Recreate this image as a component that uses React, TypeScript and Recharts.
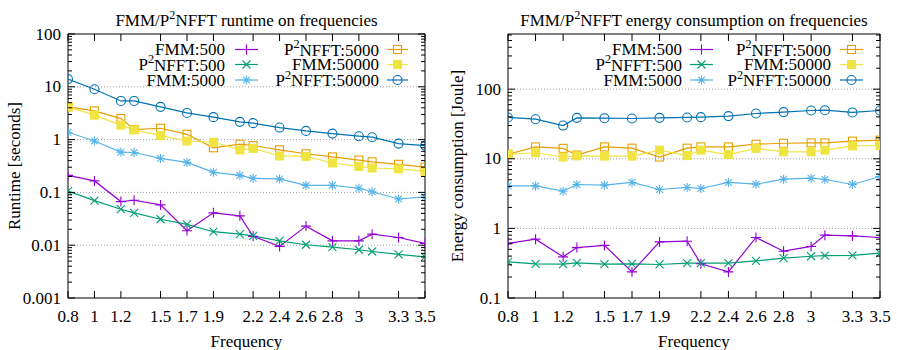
import { Line, LineChart, ReferenceArea, ReferenceLine, XAxis, YAxis } from "recharts";

const FREQS = [0.8, 1, 1.2, 1.3, 1.5, 1.7, 1.9, 2.1, 2.2, 2.4, 2.6, 2.8, 3, 3.1, 3.3, 3.5];
const X_TICKS = [0.8, 1, 1.2, 1.5, 1.7, 1.9, 2.2, 2.4, 2.6, 2.8, 3, 3.3, 3.5];

// runtime [seconds]
const RT_FMM_500 = [0.21, 0.165, 0.067, 0.071, 0.058, 0.0188, 0.041, 0.036, 0.0147, 0.0095, 0.023, 0.0121, 0.0121, 0.0162, 0.014, 0.0108];
const RT_P2NFFT_500 = [0.106, 0.07, 0.048, 0.041, 0.031, 0.0248, 0.018, 0.0162, 0.015, 0.0121, 0.0102, 0.0092, 0.0082, 0.0076, 0.0067, 0.006];
const RT_FMM_5000 = [1.38, 0.94, 0.58, 0.57, 0.44, 0.37, 0.24, 0.21, 0.185, 0.18, 0.136, 0.136, 0.12, 0.103, 0.075, 0.082];
const RT_P2NFFT_5000 = [4.17, 3.5, 2.5, 1.55, 1.64, 1.26, 0.7, 0.82, 0.77, 0.64, 0.54, 0.47, 0.41, 0.38, 0.34, 0.3];
const RT_FMM_50000 = [4.17, 2.9, 1.88, 1.53, 1.19, 0.94, 0.89, 0.64, 0.68, 0.49, 0.48, 0.36, 0.31, 0.29, 0.28, 0.25];
const RT_P2NFFT_50000 = [14.0, 9.0, 5.4, 5.4, 4.17, 3.2, 2.66, 2.17, 2.05, 1.69, 1.46, 1.3, 1.16, 1.11, 0.84, 0.77];

// energy consumption [Joule]
const EN_FMM_500 = [0.61, 0.7, 0.39, 0.53, 0.57, 0.237, 0.64, 0.655, 0.31, 0.237, 0.74, 0.47, 0.55, 0.8, 0.78, 0.74];
const EN_P2NFFT_500 = [0.33, 0.31, 0.306, 0.32, 0.306, 0.31, 0.303, 0.316, 0.316, 0.316, 0.341, 0.373, 0.398, 0.407, 0.41, 0.44];
const EN_FMM_5000 = [4.08, 4.08, 3.42, 4.27, 4.18, 4.57, 3.62, 3.87, 3.74, 4.57, 4.31, 5.09, 5.26, 5.04, 4.27, 5.57];
const EN_P2NFFT_5000 = [11.6, 14.8, 14.1, 11.3, 14.8, 14.2, 10.6, 14.2, 14.8, 14.8, 16.2, 16.7, 16.9, 16.9, 17.9, 18.5];
const EN_FMM_50000 = [11.6, 12.2, 10.6, 11.0, 10.9, 10.9, 13.3, 11.1, 13.3, 11.5, 14.1, 12.6, 12.6, 13.3, 15.3, 15.5];
const EN_P2NFFT_50000 = [39.2, 37, 30, 38.7, 38.3, 37.9, 38.7, 39.2, 39.6, 41, 44.7, 46.8, 49.4, 49.9, 46.3, 49.4];

const RT_MAJORS = [0.001, 0.01, 0.1, 1, 10, 100];
const EN_MAJORS = [0.1, 1, 10, 100];
const EN_TOP = 620;

const SERIES = [
  { key: "fmm500", label: "FMM:500", color: "#9400d3", marker: "plus" },
  { key: "p2nfft500", label: "P^2NFFT:500", color: "#009e73", marker: "cross" },
  { key: "fmm5000", label: "FMM:5000", color: "#56b4e9", marker: "star" },
  { key: "p2nfft5000", label: "P^2NFFT:5000", color: "#e69f00", marker: "box" },
  { key: "fmm50000", label: "FMM:50000", color: "#f0e442", marker: "fbox" },
  { key: "p2nfft50000", label: "P^2NFFT:50000", color: "#0072b2", marker: "circle" },
];

const FONT = "'Liberation Serif', 'DejaVu Serif', serif";
const FS = 17;

function minorsOf(majors: number[], top: number) {
  const out: number[] = [];
  majors.forEach((m) => {
    for (let k = 2; k <= 9; k++) {
      const v = +(m * k).toPrecision(3);
      if (v < top) out.push(v);
    }
  });
  return out;
}

function buildRows(cols: number[][]) {
  return FREQS.map((f, i) => {
    const row: Record<string, number> = { f };
    SERIES.forEach((s, j) => {
      row[s.key] = cols[j][i];
    });
    return row;
  });
}

const runtimeRows = buildRows([RT_FMM_500, RT_P2NFFT_500, RT_FMM_5000, RT_P2NFFT_5000, RT_FMM_50000, RT_P2NFFT_50000]);
const energyRows = buildRows([EN_FMM_500, EN_P2NFFT_500, EN_FMM_5000, EN_P2NFFT_5000, EN_FMM_50000, EN_P2NFFT_50000]);

function Marker({ cx, cy, type, color }: { cx: number; cy: number; type: string; color: string }) {
  const sw = 1.1;
  if (type === "plus") {
    const s = 5;
    return <path d={`M${cx - s},${cy}H${cx + s}M${cx},${cy - s}V${cy + s}`} stroke={color} strokeWidth={sw} fill="none" />;
  }
  if (type === "cross") {
    const c = 4;
    return <path d={`M${cx - c},${cy - c}L${cx + c},${cy + c}M${cx - c},${cy + c}L${cx + c},${cy - c}`} stroke={color} strokeWidth={sw} fill="none" />;
  }
  if (type === "star") {
    const s = 4.5;
    const c = 3.4;
    return (
      <path
        d={`M${cx - s},${cy}H${cx + s}M${cx},${cy - s}V${cy + s}M${cx - c},${cy - c}L${cx + c},${cy + c}M${cx - c},${cy + c}L${cx + c},${cy - c}`}
        stroke={color}
        strokeWidth={sw}
        fill="none"
      />
    );
  }
  if (type === "box") {
    return <rect x={cx - 4} y={cy - 4} width={8} height={8} stroke={color} strokeWidth={sw} fill="none" />;
  }
  if (type === "fbox") {
    return <rect x={cx - 4.5} y={cy - 4.5} width={9} height={9} fill={color} />;
  }
  return <circle cx={cx} cy={cy} r={4.5} stroke={color} strokeWidth={sw} fill="none" />;
}

// "P^2NFFT" -> P with superscript 2
function SupText({ text, size }: { text: string; size: number }) {
  const parts = text.split("^");
  if (parts.length === 1) return <>{text}</>;
  const rise = size * 0.3;
  return (
    <>
      {parts[0]}
      <tspan fontSize={size * 0.72} dy={-rise}>
        {parts[1][0]}
      </tspan>
      <tspan dy={rise}>{parts[1].slice(1)}</tspan>
    </>
  );
}

interface PanelProps {
  left: number;
  title: string;
  yLabel: string;
  yLabelX: number;
  rows: Record<string, number>[];
  domain: [number, number];
  majors: number[];
  plot: { l: number; r: number; t: number; b: number };
  legendEnds: number[];
  legendSamples: [number, number][];
}

const W = 450;
const H = 350;
const ROWS_Y = [49.5, 64.5, 80];

function Panel({ left, title, yLabel, yLabelX, rows, domain, majors, plot, legendEnds, legendSamples }: PanelProps) {
  const plotW = plot.r - plot.l;
  const plotH = plot.b - plot.t;
  const minors = minorsOf(majors, domain[1]);
  const yTicks = [...majors, ...minors].sort((a, b) => a - b);
  const cx = (plot.l + plot.r) / 2;

  const YTick = (props: any) => {
    const { x, y, payload } = props;
    const major = majors.includes(payload.value);
    const len = major ? 7 : 4;
    return (
      <g>
        <line x1={x} y1={y} x2={x + len} y2={y} stroke="#000" />
        <line x1={x + plotW} y1={y} x2={x + plotW - len} y2={y} stroke="#000" />
        {major && (
          <text x={x - 7} y={y} textAnchor="end" dominantBaseline="central" fontFamily={FONT} fontSize={FS} fill="#000">
            {String(payload.value)}
          </text>
        )}
      </g>
    );
  };

  const XTick = (props: any) => {
    const { x, y, payload } = props;
    return (
      <g>
        <line x1={x} y1={y} x2={x} y2={y - 7} stroke="#000" />
        <line x1={x} y1={y - plotH} x2={x} y2={y - plotH + 7} stroke="#000" />
        <text x={x} y={y + 18} textAnchor="middle" dominantBaseline="central" fontFamily={FONT} fontSize={FS} fill="#000">
          {String(payload.value)}
        </text>
      </g>
    );
  };

  return (
    <div style={{ position: "absolute", left, top: 0, width: W, height: H }}>
      <LineChart
        width={W}
        height={H}
        data={rows}
        margin={{ top: plot.t, left: plot.l - 1, right: W - plot.r, bottom: H - plot.b - 1 }}
      >
        <XAxis
          dataKey="f"
          type="number"
          domain={[0.8, 3.5]}
          ticks={X_TICKS}
          interval={0}
          height={1}
          tickSize={0}
          tickMargin={0}
          axisLine={false}
          tickLine={false}
          tick={XTick}
          allowDataOverflow
        />
        <YAxis
          type="number"
          scale="log"
          domain={domain}
          ticks={yTicks}
          interval={0}
          width={1}
          tickSize={0}
          tickMargin={0}
          axisLine={false}
          tickLine={false}
          tick={YTick}
          allowDataOverflow
        />
        {majors
          .filter((v) => v > domain[0] && v < domain[1])
          .map((v) => (
            <ReferenceLine key={v} y={v} stroke="#a0a0a0" strokeDasharray="1 2" strokeWidth={1} />
          ))}
        <ReferenceArea x1={0.8} x2={3.5} y1={domain[0]} y2={domain[1]} fill="none" stroke="#000" strokeWidth={1} fillOpacity={0} />
        {SERIES.map((s) => (
          <Line
            key={s.key}
            dataKey={s.key}
            stroke={s.color}
            strokeWidth={1.2}
            isAnimationActive={false}
            dot={(p: any) => <Marker key={`${s.key}-${p.index}`} cx={p.cx} cy={p.cy} type={s.marker} color={s.color} />}
            activeDot={false}
          />
        ))}
      </LineChart>
      <svg width={W} height={H} style={{ position: "absolute", left: 0, top: 0, pointerEvents: "none" }}>
        <text x={cx} y={20} textAnchor="middle" dominantBaseline="central" fontFamily={FONT} fontSize={FS}>
          <SupText text={title} size={FS} />
        </text>
        <text
          x={yLabelX}
          y={(plot.t + plot.b) / 2}
          textAnchor="middle"
          dominantBaseline="central"
          fontFamily={FONT}
          fontSize={FS}
          transform={`rotate(-90 ${yLabelX} ${(plot.t + plot.b) / 2})`}
        >
          {yLabel}
        </text>
        <text x={cx} y={341} textAnchor="middle" dominantBaseline="central" fontFamily={FONT} fontSize={FS}>
          Frequency
        </text>
        {SERIES.map((s, i) => {
          const col = Math.floor(i / 3);
          const y = ROWS_Y[i % 3];
          const [a, b] = legendSamples[col];
          return (
            <g key={s.key}>
              <text x={legendEnds[col]} y={y} textAnchor="end" dominantBaseline="central" fontFamily={FONT} fontSize={FS}>
                <SupText text={s.label} size={FS} />
              </text>
              <line x1={a} y1={y} x2={b} y2={y} stroke={s.color} strokeWidth={1.2} />
              <Marker cx={(a + b) / 2} cy={y} type={s.marker} color={s.color} />
            </g>
          );
        })}
      </svg>
    </div>
  );
}

export default function App() {
  return (
    <div style={{ position: "absolute", left: 0, top: 0, width: 897, height: 350, background: "#fff" }}>
      <Panel
        left={0}
        title="FMM/P^2NFFT runtime on frequencies"
        yLabel="Runtime [seconds]"
        yLabelX={14}
        rows={runtimeRows}
        domain={[0.001, 100]}
        majors={RT_MAJORS}
        plot={{ l: 68, r: 425, t: 34, b: 298 }}
        legendEnds={[225, 379]}
        legendSamples={[
          [235, 258],
          [387, 408],
        ]}
      />
      <Panel
        left={447}
        title="FMM/P^2NFFT energy consumption on frequencies"
        yLabel="Energy consumption [Joule]"
        yLabelX={10}
        rows={energyRows}
        domain={[0.1, EN_TOP]}
        majors={EN_MAJORS}
        plot={{ l: 61, r: 433, t: 34, b: 298 }}
        legendEnds={[235, 384]}
        legendSamples={[
          [243, 266],
          [393, 416],
        ]}
      />
    </div>
  );
}
